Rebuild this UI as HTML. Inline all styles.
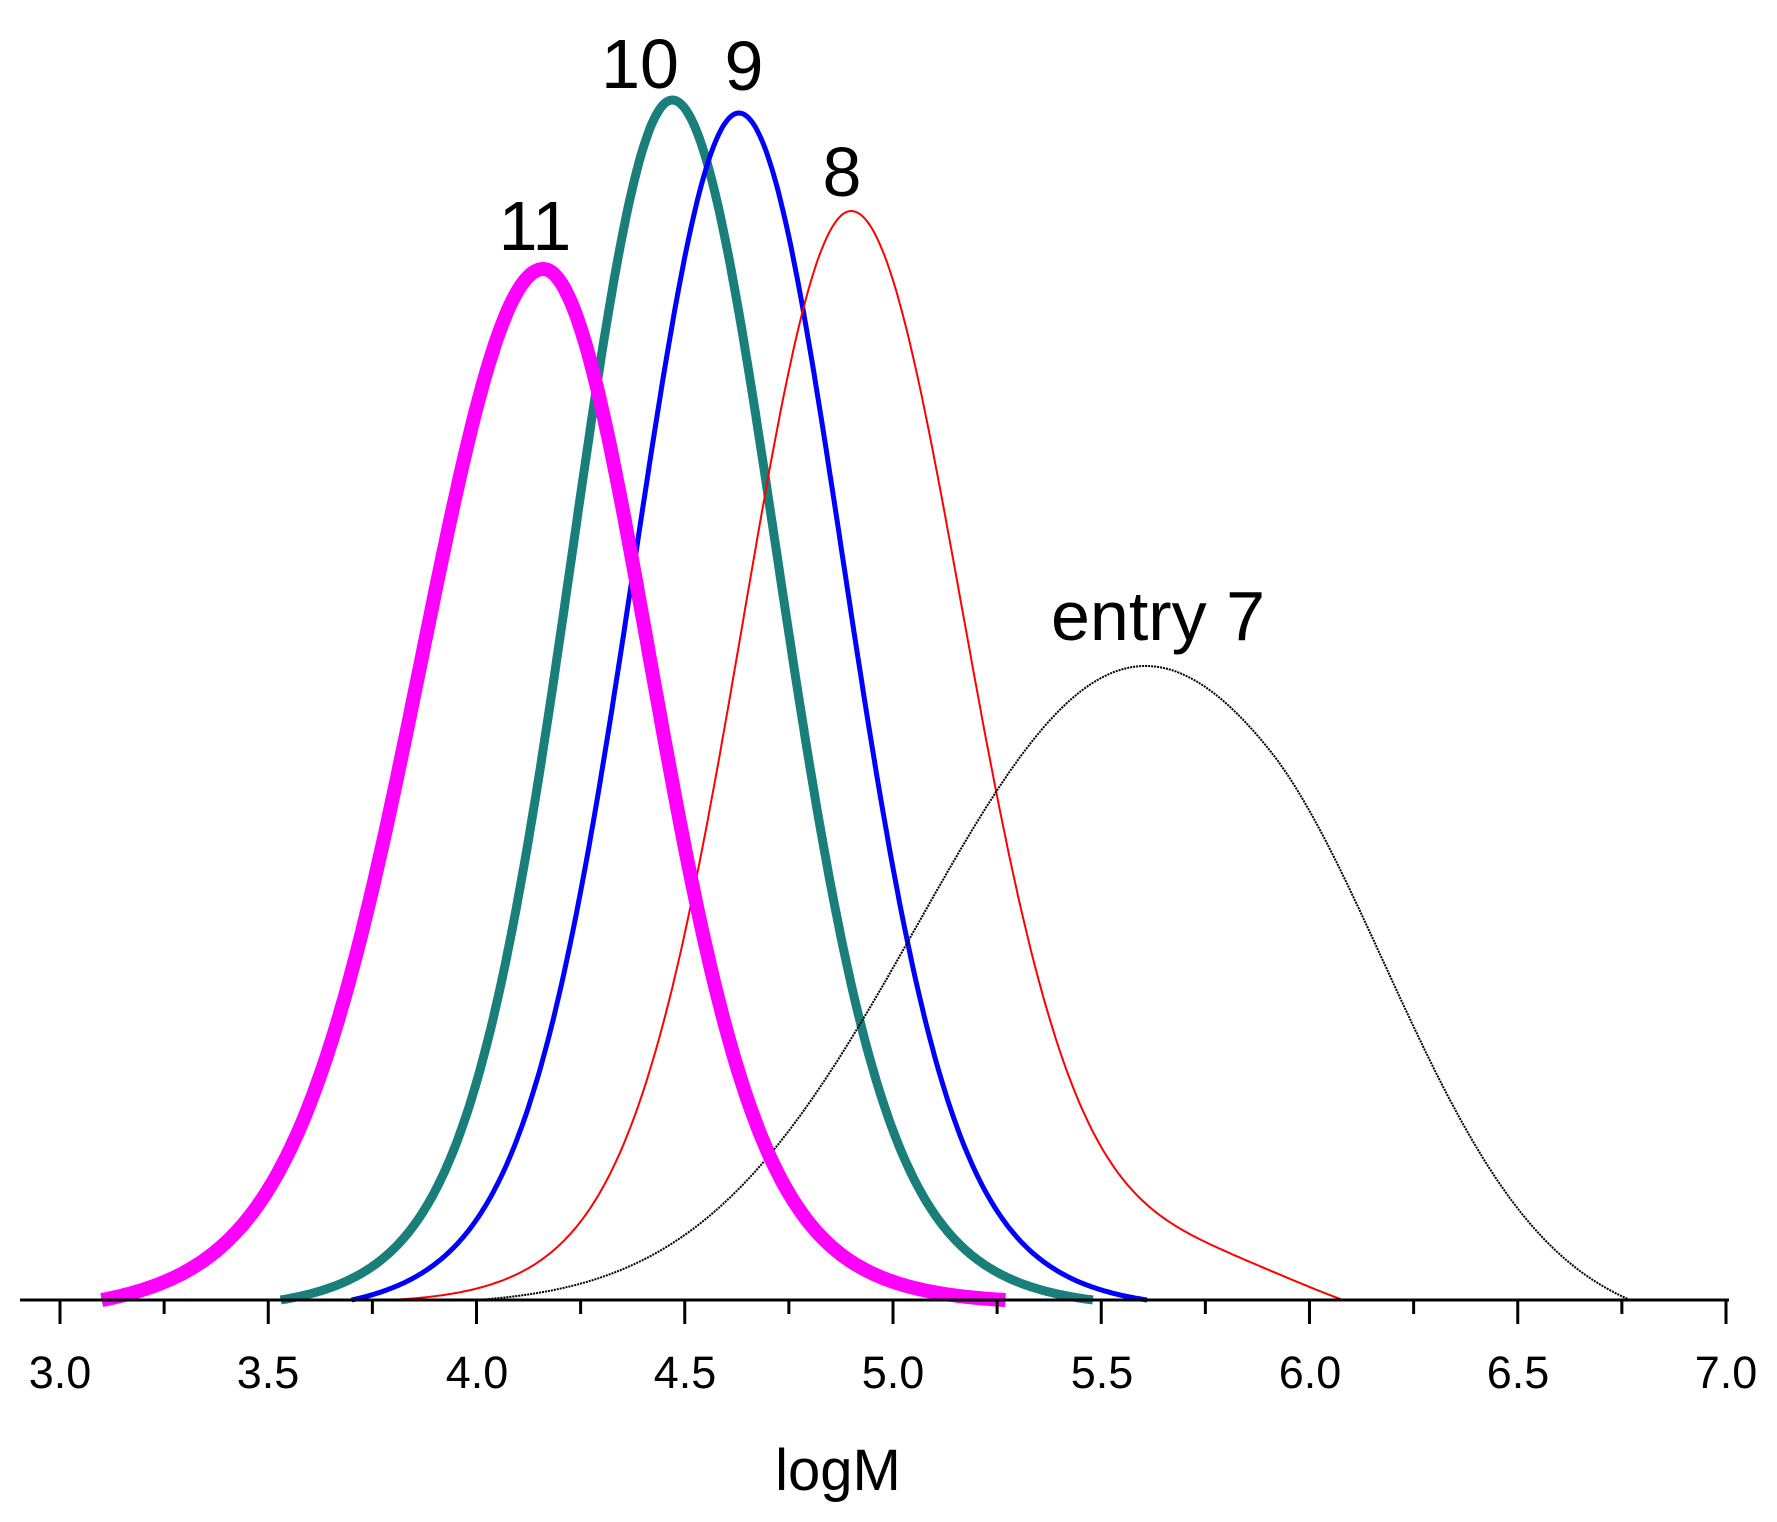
<!DOCTYPE html>
<html><head><meta charset="utf-8"><style>
html,body{margin:0;padding:0;background:#fff}
svg{display:block}
text{font-family:"Liberation Sans",sans-serif;fill:#000}
</style></head><body>
<svg id="s" width="1777" height="1522" viewBox="0 0 1777 1522" xmlns="http://www.w3.org/2000/svg">
<g id="curves"></g>
<line x1="20" y1="1300" x2="1729" y2="1300" stroke="#000" stroke-width="3"/>
<g id="ticks" stroke="#000" stroke-width="3"></g>
<g font-size="45" text-anchor="middle">
<text x="60" y="1388">3.0</text><text x="268" y="1388">3.5</text><text x="477" y="1388">4.0</text>
<text x="685" y="1388">4.5</text><text x="893" y="1388">5.0</text><text x="1102" y="1388">5.5</text>
<text x="1310" y="1388">6.0</text><text x="1518" y="1388">6.5</text><text x="1726" y="1388">7.0</text>
</g>
<text x="838" y="1490" font-size="58" text-anchor="middle">logM</text>
<g font-size="70" text-anchor="middle">
<text x="640" y="88">10</text><text x="744" y="90">9</text><text x="842" y="196">8</text>
<text x="535" y="250">11</text><text x="1158" y="640">entry 7</text>
</g>
</svg>
<script>
var X=function(v){return 60+(v-3)*416.5;};
var base=1300;
var t=document.getElementById('ticks'),h='';
for(var v=3;v<=7.001;v+=0.25){var maj=Math.abs(v*2-Math.round(v*2))<1e-6;h+='<line x1="'+X(v)+'" y1="1300" x2="'+X(v)+'" y2="'+(maj?1324:1314)+'"/>';}
t.innerHTML=h;
function g1(v,m,sl,sr){var s=v<m?sl:sr;return Math.exp(-0.5*Math.pow((v-m)/s,2));}
function g(v,m,sl,sr){return 0.8*g1(v,m,sl,sr)+0.2*g1(v,m,sl*1.6,sr*1.6);}
var series=[
 {a:3.53,b:5.48,f:function(v){return g(v,4.47,0.23,0.24);},top:100,c:'#1a7f7a',w:9},
 {a:3.7,b:5.61,f:function(v){return g(v,4.63,0.24,0.24);},top:113,c:'#0000ff',w:5},
 {a:3.79,b:6.08,f:function(v){return 0.97*g(v,4.9,0.25,0.26)+0.05*g1(v,5.75,0.3,0.3);},top:211,c:'#ff0000',w:2},
 {a:4.0,b:6.77,f:function(v){return 0.75*g1(v,5.5,0.5,0.5)+0.45*g1(v,5.9,0.6,0.35);},top:666,c:'#000',w:2,d:'2 1'},
 {a:3.1,b:5.27,f:function(v){return g(v,4.16,0.28,0.245);},top:269,c:'#ff00ff',w:14}
];
var out='';
series.forEach(function(s){
 var pts=[];
 var y0=s.f(s.a),y1=s.f(s.b);
 for(var v=s.a;v<=s.b+1e-9;v+=0.005){var fr=(v-s.a)/(s.b-s.a);pts.push([v,s.f(v)-(y0+(y1-y0)*fr)]);}
 var mx=0;pts.forEach(function(q){if(q[1]>mx)mx=q[1];});
 var p=pts.map(function(q,i){var yy=Math.max(0,q[1]/mx);
  return (i?'L':'M')+X(q[0]).toFixed(1)+','+(base-yy*(base-s.top)).toFixed(1);}).join('');
 out+='<path d="'+p+'" fill="none" stroke="'+s.c+'" stroke-width="'+s.w+'"'+(s.d?' stroke-dasharray="'+s.d+'"':'')+' stroke-linejoin="round"/>';
});
document.getElementById('curves').innerHTML=out;
</script>
</body></html>
